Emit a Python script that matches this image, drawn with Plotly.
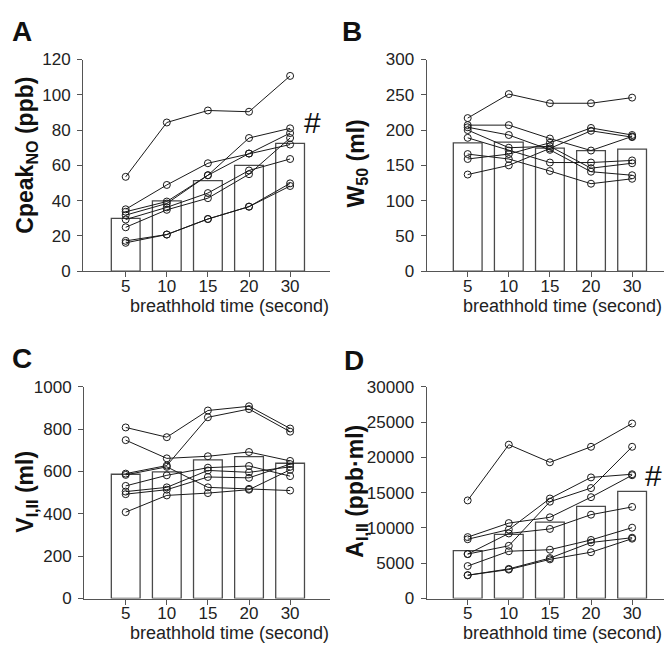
import plotly.graph_objects as go

# ---------------- data ----------------
times = ["5", "10", "15", "20", "30"]

# Panel A: Cpeak_NO (ppb)
cpeak_bar = [30.0, 39.9, 51.3, 60.0, 72.5]
cpeak_subjects = [
    [53.5, 84.3, 91.1, 90.4, 110.7],
    [35.1, 48.9, 61.2, 66.7, 71.8],
    [33.7, 39.5, 54.4, 75.5, 81.0],
    [31.8, 38.4, 54.4, 66.7, 78.3],
    [29.3, 36.2, 44.3, 57.1, 63.6],
    [24.9, 34.8, 41.4, 55.0, 75.5],
    [17.2, 20.8, 29.6, 36.6, 49.8],
    [16.1, 20.8, 29.6, 36.6, 48.3],
]

# Panel B: W50 (ml)
w50_bar = [182, 183, 174.5, 171, 173]
w50_subjects = [
    [217, 251, 238, 238, 246],
    [207, 207, 188, 171, 191],
    [204, 193, 172, 141, 136],
    [200, 175, 177, 146, 153],
    [189, 171, 154, 154, 157],
    [166, 159, 142, 124, 131],
    [159, 166, 182, 203, 193],
    [137, 150, 174, 199, 190],
]

# Panel C: V_I,II (ml)
v_bar = [587, 598, 655, 670, 639]
v_subjects = [
    [808, 762, 888, 908, 803],
    [748, 662, 672, 692, 650],
    [590, 628, 856, 895, 788],
    [584, 622, 525, 518, 510],
    [532, 582, 618, 626, 578],
    [505, 525, 605, 596, 622],
    [493, 514, 574, 570, 635],
    [408, 487, 498, 514, 608],
]

# Panel D: A_I,II (ppb·ml)
a_bar = [6800, 9080, 10820, 13070, 15180]
a_subjects = [
    [13900, 21800, 19300, 21500, 24800],
    [8700, 10690, 11510, 14360, 17470],
    [8400, 9770, 14170, 17160, 17610],
    [6300, 7470, 13720, 15650, 21500],
    [6300, 9220, 9860, 11880, 12980],
    [4600, 6700, 6920, 8300, 10040],
    [3300, 4200, 5730, 7940, 8620],
    [3300, 4100, 5550, 6560, 8480],
]

panel_letters = ["A", "B", "C", "D"]
y_titles = [
    "<b>Cpeak<sub>NO</sub> (ppb)</b>",
    "<b>W<sub>50</sub> (ml)</b>",
    "<b>V<sub>I,II</sub> (ml)</b>",
    "<b>A<sub>I,II</sub> (ppb·ml)</b>",
]
x_title = "breathhold time (second)"
y_ranges = [[0, 120], [0, 300], [0, 1000], [0, 30000]]
y_dticks = [20, 50, 200, 5000]

# ---------------- layout geometry ----------------
W, H = 664, 660
FONT = "Liberation Sans, Arial, sans-serif"
AX = "#555555"

def px_x(p):
    return p / W

def px_y(p):
    return 1 - p / H

# plot-area pixel boxes: (left, right, top, bottom)
boxes = [
    (83, 330, 52, 270),
    (426.5, 664, 52, 270),
    (84, 330, 389, 607),
    (426.5, 664, 389, 607),
]
tick0_px = [125.7, 467.7, 125.7, 467.7]
spacing = 41.1
letter_pos = [(22, 23), (352, 23), (22, 360), (354, 362)]
ytitle_pos = [(27, 151), (357, 159), (27, 497), (357, 497)]
xtitle_cx = [229.5, 562, 229.5, 562]

fig = go.Figure()

datasets = [
    (cpeak_bar, cpeak_subjects),
    (w50_bar, w50_subjects),
    (v_bar, v_subjects),
    (a_bar, a_subjects),
]

for i, (bars, subjects) in enumerate(datasets):
    xa = "x" if i == 0 else f"x{i+1}"
    ya = "y" if i == 0 else f"y{i+1}"
    fig.add_trace(go.Bar(
        x=times, y=bars, width=0.7, xaxis=xa, yaxis=ya,
        marker=dict(color="white", line=dict(color="#4a4a4a", width=1.3)),
        hoverinfo="skip",
    ))
    for s in subjects:
        fig.add_trace(go.Scatter(
            x=times, y=s, xaxis=xa, yaxis=ya, mode="lines+markers",
            line=dict(color="#1a1a1a", width=1),
            marker=dict(symbol="circle-open", size=7, color="#1a1a1a",
                        line=dict(width=1, color="#1a1a1a")),
            hoverinfo="skip",
        ))

layout = dict(
    width=W, height=H,
    margin=dict(l=0, r=0, t=0, b=0),
    paper_bgcolor="white", plot_bgcolor="white",
    showlegend=False, barmode="overlay",
    font=dict(family=FONT, color="#222222", size=17),
)

annotations = []
for i in range(4):
    l, r, t, b = boxes[i]
    xk = "xaxis" if i == 0 else f"xaxis{i+1}"
    yk = "yaxis" if i == 0 else f"yaxis{i+1}"
    xanchor_name = "y" if i == 0 else f"y{i+1}"
    yanchor_name = "x" if i == 0 else f"x{i+1}"
    x0 = (l - tick0_px[i]) / spacing
    x1 = (r - tick0_px[i]) / spacing
    layout[xk] = dict(
        domain=[px_x(l), px_x(r)], anchor=xanchor_name,
        type="category", categoryorder="array", categoryarray=times,
        range=[x0, x1], showline=True, linecolor=AX, linewidth=1,
        ticks="outside", ticklen=5, tickcolor=AX, tickwidth=1,
        ticklabelstandoff=-6,
        showgrid=False, zeroline=False, fixedrange=True,
        tickfont=dict(size=17, family=FONT, color="#222222"),
    )
    layout[yk] = dict(
        domain=[px_y(b), px_y(t)], anchor=yanchor_name,
        range=y_ranges[i], dtick=y_dticks[i], tick0=0, tickformat="d",
        showline=True, linecolor=AX, linewidth=1,
        ticks="outside", ticklen=5, tickcolor=AX, tickwidth=1,
        ticklabelstandoff=3,
        showgrid=False, zeroline=False, fixedrange=True,
        tickfont=dict(size=17, family=FONT, color="#222222"),
    )
    # panel letter
    lx, ly = letter_pos[i]
    annotations.append(dict(
        text=f"<b>{panel_letters[i]}</b>", xref="paper", yref="paper",
        x=px_x(lx), y=px_y(ly), xanchor="center", yanchor="middle",
        showarrow=False, font=dict(size=28, family=FONT, color="#111111"),
    ))
    # y title
    tx, ty = ytitle_pos[i]
    annotations.append(dict(
        text=y_titles[i], xref="paper", yref="paper", textangle=-90,
        x=px_x(tx), y=px_y(ty), xanchor="center", yanchor="middle",
        showarrow=False, font=dict(size=23, family=FONT, color="#111111"),
    ))
    # x title
    annotations.append(dict(
        text=x_title, xref="paper", yref="paper",
        x=px_x(xtitle_cx[i]), y=px_y(b + 36),
        xanchor="center", yanchor="middle",
        showarrow=False, font=dict(size=18, family=FONT, color="#222222"),
    ))

# significance markers
annotations.append(dict(text="#", xref="x", yref="y", x=4.55, y=84.5,
                        showarrow=False, font=dict(size=30, family=FONT, color="#111111")))
annotations.append(dict(text="#", xref="x4", yref="y4", x=4.51, y=17400,
                        showarrow=False, font=dict(size=30, family=FONT, color="#111111")))

layout["annotations"] = annotations
fig.update_layout(**layout)
fig.write_html(
    "out.html",
    config={"displayModeBar": False, "staticPlot": True},
    post_script="document.body.style.margin='0';document.body.style.overflow='hidden';",
)
